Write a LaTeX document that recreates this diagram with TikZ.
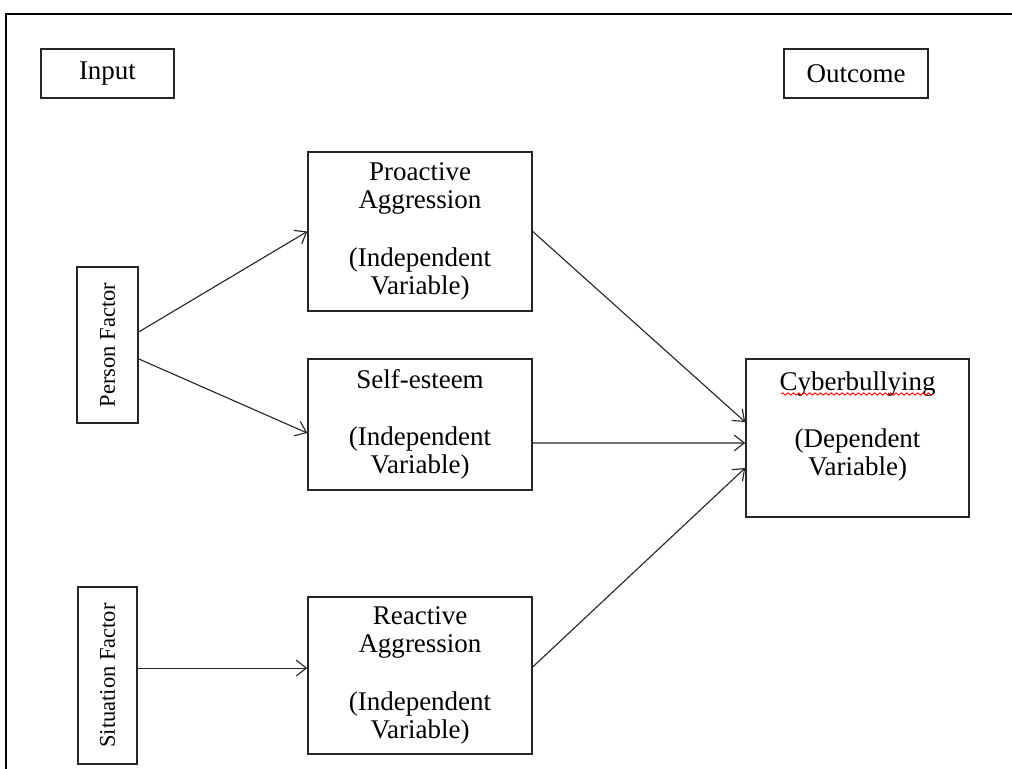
\documentclass[tikz,border=0pt]{standalone}
\usepackage{fontspec}
\setmainfont{Liberation Serif}
\usetikzlibrary{arrows.meta,decorations.pathmorphing}

\begin{document}
\begin{tikzpicture}[x=0.4444pt, y=-0.4444pt,
  box/.style={draw=black!85, line width=0.7pt, align=center, inner sep=0pt,
    font=\fontsize{12}{12.7}\selectfont},
  sidebox/.style={draw=black!85, line width=0.7pt, inner sep=0pt,
    font=\fontsize{10}{12}\selectfont},
  link/.style={-{Straight Barb[length=4.5pt,width=7pt]}, line width=0.5pt, draw=black!85}]
\useasboundingbox (0,0) rectangle (1012,769);
% Frame
\draw[line width=1.2pt] (6,769) -- (6,14) -- (1012,14);

% Headings
\node[box, minimum width=59.1pt, minimum height=21.8pt] (input) at (107.5,73.5) {Input};
\node[box, minimum width=64pt, minimum height=21.8pt] (outcome) at (856,73.5) {Outcome};

% Factors
\node[sidebox, minimum width=27.1pt, minimum height=69.3pt] (pf) at (107.5,345) {\rotatebox{90}{Person Factor}};
\node[sidebox, minimum width=26.2pt, minimum height=78.7pt] (sf) at (107.5,675.5) {\rotatebox{90}{Situation Factor}};

% Independent variables
\node[box, minimum width=99.5pt, minimum height=70.7pt] (pa) at (420,231.5)
  {Proactive\\Aggression\\[12.7pt](Independent\\Variable)};
\node[box, minimum width=99.5pt, minimum height=58.2pt] (se) at (420,424.5)
  {Self-esteem\\[12.7pt](Independent\\Variable)};
\node[box, minimum width=99.5pt, minimum height=69.8pt] (ra) at (420,675.5)
  {Reactive\\Aggression\\[12.7pt](Independent\\Variable)};

% Dependent variable
\node[box, minimum width=99.1pt, minimum height=70.2pt] (cb) at (857.5,438)
  {Cyberbullying\\[12.7pt](Dependent\\Variable)\\\mbox{}};
\draw[red, line width=0.4pt, decorate, decoration={snake, amplitude=0.5pt, segment length=2.4pt}]
  (781,394) -- (933,394);

% Links
\draw[link] ([yshift=5.8pt]pf.east) -- (pa.west);
\draw[link] ([yshift=-6.2pt]pf.east) -- ([yshift=-3.8pt]se.west);
\draw[link] ([yshift=3.3pt]sf.east) -- ([yshift=3.3pt]ra.west);
\draw[link] (pa.east) -- ([yshift=7.1pt]cb.west);
\draw[link] ([yshift=-8.2pt]se.east) -- ([yshift=-2.2pt]cb.west);
\draw[link] ([yshift=3.8pt]ra.east) -- ([yshift=-13.3pt]cb.west);
\end{tikzpicture}
\end{document}
